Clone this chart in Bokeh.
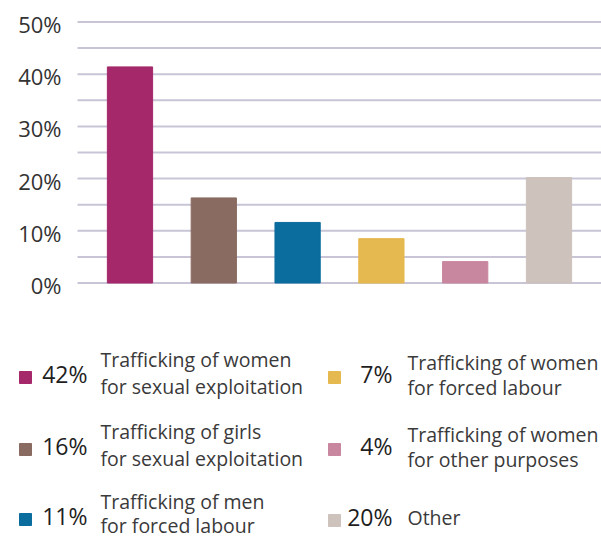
from bokeh.plotting import figure
from bokeh.models import Range1d, ColumnDataSource
from bokeh.core.properties import value
from bokeh.embed import file_html
from bokeh.resources import INLINE

# ---- data ----
categories = ["Women, sexual exploitation", "Girls, sexual exploitation", "Men, forced labour",
              "Women, forced labour", "Women, other purposes", "Other"]
values = [41.4, 16.3, 11.6, 8.5, 4.1, 20.2]
colors = ["#a4286a", "#8a6b61", "#0a6d9e", "#e5b94f", "#c9879f", "#cdc2bc"]
legend_pct = ["42%", "16%", "11%", "7%", "4%", "20%"]
legend_line1 = ["Trafficking of women", "Trafficking of girls", "Trafficking of men",
                "Trafficking of women", "Trafficking of women", "Other"]
legend_line2 = ["for sexual exploitation", "for sexual exploitation", "for forced labour",
                "for forced labour", "for other purposes", ""]
y_ticks = [0, 10, 20, 30, 40, 50]
grid_vals = [0, 5, 10, 15, 20, 25, 30, 35, 40, 45, 50]

FONT = "Open Sans"
TXT = "#3a3a3a"
W, H = 601, 539

# ---- single figure: bars on category/percent ranges, legend on pixel ranges ----
p = figure(width=W, height=H, output_backend="svg", toolbar_location=None,
           x_range=Range1d(-0.5453, 6.6265), y_range=Range1d(-49.14, 54.12),
           x_axis_location=None, y_axis_location=None, min_border=0)
p.extra_x_ranges = {"px": Range1d(0, W)}
p.extra_y_ranges = {"py": Range1d(H, 0)}
p.outline_line_color = None
p.xgrid.visible = False
p.ygrid.visible = False

# gridlines every 5%
p.segment(x0=0.3735, x1=6.63, y0=grid_vals, y1=grid_vals, line_color="#c9c5d6", line_width=2)

# y tick labels
p.text(x=[0.1826] * len(y_ticks), y=y_ticks, text=[f"{t}%" for t in y_ticks],
       text_align="right", text_baseline="alphabetic", y_offset=2,
       text_font=value(FONT), text_font_size="22px", text_color="#333333")

# bars
xs = list(range(1, len(values) + 1))
src = ColumnDataSource(dict(x=xs, top=values, color=colors, cat=categories))
p.vbar(x="x", top="top", bottom=0, width=0.54, color="color", source=src)

# legend (pixel coordinates)
col_sq = [25, 334]
col_pct = [87, 392]
col_lbl = [100, 407]
row_y = [[377, 449, 519], [377, 449, 520]]
off1 = [-18, -15]
off2 = [9, 10]

sq_x, sq_y, px, py, lx, ly1, ly2 = [], [], [], [], [], [], []
for i in range(len(values)):
    c, r = divmod(i, 3)
    ry = row_y[c][r]
    sq_x.append(col_sq[c]); sq_y.append(ry)
    px.append(col_pct[c]); py.append(ry - 4)
    lx.append(col_lbl[c])
    if legend_line2[i]:
        bottom_fix = -3 if r == 2 else 0
        ly1.append(ry + off1[c]); ly2.append(ry + off2[c] + bottom_fix)
    else:
        ly1.append(ry - 3); ly2.append(ry - 3)

lsrc = ColumnDataSource(dict(sx=sq_x, sy=sq_y, color=colors, px=px, py=py, pct=legend_pct,
                             lx=lx, ly1=ly1, ly2=ly2, l1=legend_line1, l2=legend_line2))
kw = dict(source=lsrc, x_range_name="px", y_range_name="py")
p.rect(x="sx", y="sy", width=12, height=12, color="color", **kw)
p.text(x="px", y="py", text="pct", text_align="right", text_baseline="alphabetic",
       text_font=value(FONT), text_font_size="23px",
       text_color="#1e1e1e", **kw)
p.text(x="lx", y="ly1", text="l1", text_align="left", text_baseline="alphabetic",
       text_font=value(FONT), text_font_size="19.5px", text_color=TXT, **kw)
p.text(x="lx", y="ly2", text="l2", text_align="left", text_baseline="alphabetic",
       text_font=value(FONT), text_font_size="19.5px", text_color=TXT, **kw)

open("out.html", "w").write(file_html(p, INLINE))
